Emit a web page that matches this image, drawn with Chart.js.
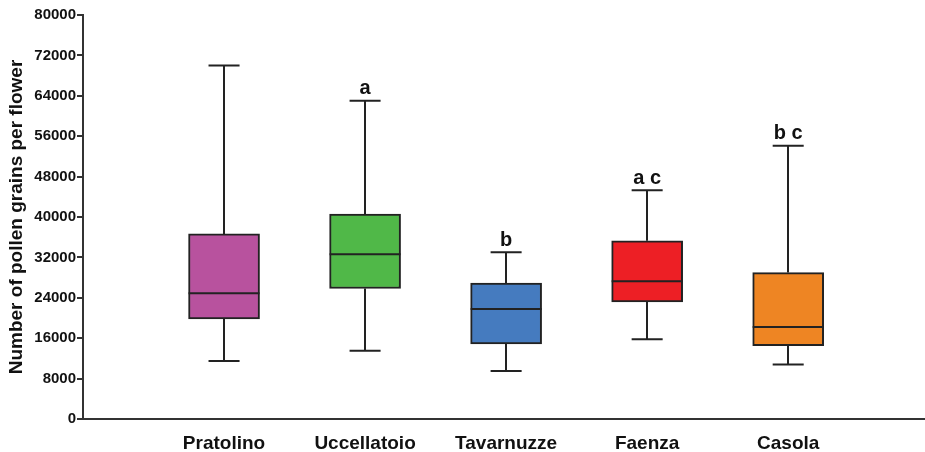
<!DOCTYPE html>
<html>
<head>
<meta charset="utf-8">
<script src="https://cdn.jsdelivr.net/npm/chart.js@4"></script>
<style>
  html, body { margin: 0; padding: 0; background: #fff; }
  #wrap { width: 925px; height: 452px; position: relative; }
</style>
</head>
<body>
<div id="wrap"><canvas id="myChart"></canvas></div>
<script>
// Dane (liczba ziaren pyłku na kwiat)
const categories = ['Pratolino', 'Uccellatoio', 'Tavarnuzze', 'Faenza', 'Casola'];
const mins    = [11500, 13500,  9500, 15800, 10800];
const q1s     = [19800, 25850, 14850, 23200, 14500];
const medians = [24900, 32600, 21800, 27300, 18200];
const q3s     = [36650, 40600, 26900, 35300, 29000];
const maxs    = [70000, 63000, 33000, 45300, 54100];
const sigLetters = ['', 'a', 'b', 'a c', 'b c'];
const yTicks = [0, 8000, 16000, 24000, 32000, 40000, 48000, 56000, 64000, 72000, 80000];

const boxColors = ['#B8529E', '#50B848', '#457BBF', '#ED1F25', '#EE8523'];
const lineColor = '#222';
const fontFamily = "'Liberation Sans', Arial, sans-serif";

// Wąsy, mediany i litery rysowane przez skale Chart.js
const whiskerPlugin = {
    id: 'whiskers',
    beforeDatasetsDraw(chart) {
        const { ctx, scales: { x, y } } = chart;
        ctx.save();
        ctx.strokeStyle = lineColor;
        ctx.lineWidth = 2;
        categories.forEach((c, i) => {
            const cx = Math.round(x.getPixelForValue(i + 1));
            const capL = x.getPixelForValue(i + 1 - 0.11);
            const capR = x.getPixelForValue(i + 1 + 0.11);
            const yMax = y.getPixelForValue(maxs[i]);
            const yMin = y.getPixelForValue(mins[i]);
            ctx.beginPath();
            ctx.moveTo(cx, y.getPixelForValue(q3s[i]));
            ctx.lineTo(cx, yMax);
            ctx.moveTo(cx, y.getPixelForValue(q1s[i]));
            ctx.lineTo(cx, yMin);
            ctx.moveTo(capL, yMax);
            ctx.lineTo(capR, yMax);
            ctx.moveTo(capL, yMin);
            ctx.lineTo(capR, yMin);
            ctx.stroke();
        });
        ctx.restore();
    },
    afterDatasetsDraw(chart) {
        const { ctx, scales: { x, y } } = chart;
        const bar = chart.getDatasetMeta(0).data;
        ctx.save();
        ctx.strokeStyle = lineColor;
        ctx.lineWidth = 2;
        categories.forEach((c, i) => {
            const half = bar[i].width / 2;
            const cx = x.getPixelForValue(i + 1);
            const ym = y.getPixelForValue(medians[i]);
            ctx.beginPath();
            ctx.moveTo(cx - half, ym);
            ctx.lineTo(cx + half, ym);
            ctx.stroke();
        });
        ctx.fillStyle = '#111';
        ctx.font = 'bold 20px ' + fontFamily;
        ctx.textAlign = 'center';
        ctx.textBaseline = 'bottom';
        sigLetters.forEach((t, i) => {
            if (!t) return;
            ctx.fillText(t, x.getPixelForValue(i + 1), y.getPixelForValue(maxs[i]) - 2);
        });
        ctx.restore();
    }
};

const ctx = document.getElementById('myChart').getContext('2d');
new Chart(ctx, {
    type: 'bar',
    data: {
        datasets: [{
            data: categories.map((c, i) => ({ x: i + 1, y: [q1s[i], q3s[i]] })),
            backgroundColor: boxColors,
            borderColor: lineColor,
            borderWidth: 2,
            borderSkipped: false,
            barThickness: 71
        }]
    },
    options: {
        responsive: true,
        maintainAspectRatio: false,
        animation: false,
        layout: { padding: { top: 15, right: 0, left: 0, bottom: 0 } },
        plugins: { legend: { display: false }, tooltip: { enabled: false } },
        scales: {
            x: {
                type: 'linear',
                offset: false,
                min: 0,
                max: 5.97,
                afterBuildTicks: s => { s.ticks = categories.map((c, i) => ({ value: i + 1 })); },
                afterFit: s => { s.height = 33; },
                grid: { display: false, offset: false },
                border: { color: '#333', width: 2 },
                ticks: {
                    padding: 5,
                    color: '#111',
                    font: { family: fontFamily, size: 19, weight: 'bold' },
                    callback: v => categories[v - 1] || ''
                }
            },
            y: {
                min: 0,
                max: 80000,
                afterBuildTicks: s => { s.ticks = yTicks.map(v => ({ value: v })); },
                afterFit: s => { s.width = 83; },
                grid: { drawOnChartArea: false, drawTicks: true, tickLength: 6, color: '#333', lineWidth: 2 },
                border: { color: '#333', width: 2 },
                ticks: {
                    padding: 1,
                    color: '#111',
                    font: { family: fontFamily, size: 15, weight: 'bold' },
                    callback: v => String(v)
                },
                title: {
                    display: true,
                    text: 'Number of pollen grains per flower',
                    color: '#111',
                    padding: { top: 5, bottom: 0 },
                    font: { family: fontFamily, size: 19, weight: 'bold' }
                }
            }
        }
    },
    plugins: [whiskerPlugin]
});
</script>
</body>
</html>
